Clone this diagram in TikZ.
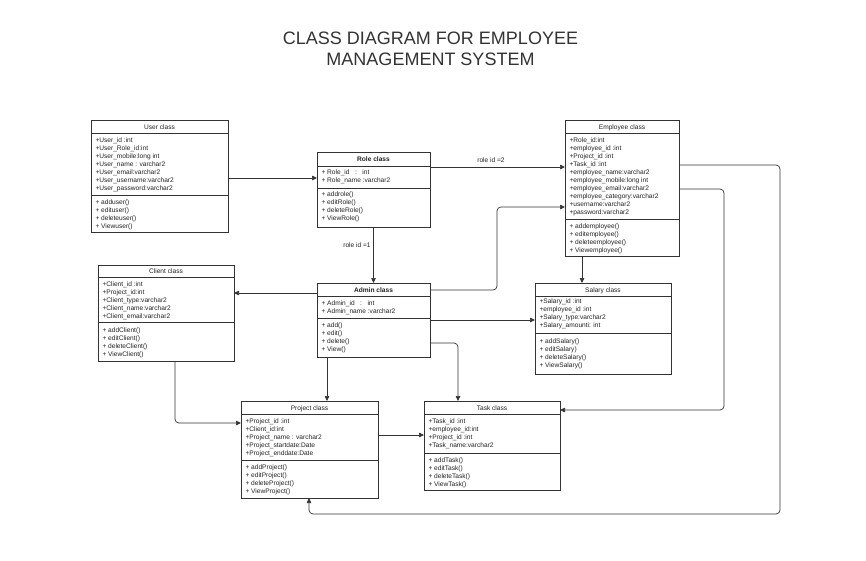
\documentclass[tikz,border=0pt]{standalone}
\usepackage{fontspec}
\setmainfont{Liberation Sans}
\usetikzlibrary{arrows.meta}
\definecolor{ln}{HTML}{333333}
\definecolor{tx}{HTML}{222222}
\definecolor{ttl}{HTML}{333333}
\newcommand\cltext{\fontsize{6.6}{8}\selectfont}
\newcommand\txlines[3]{% x, y0, list
  \foreach \t [count=\i from 0] in {#3} {\node[txt, anchor=base west] at (#1, {#2+\i*8+2.4}) {\t};}}
\newcommand\classhead[5]{% node, x1, x2, yline, ysep
  \draw[ln, line width=0.9pt] (#2,#4) -- (#3,#4);
  \draw[ln, line width=0.9pt] (#2,#5) -- (#3,#5);}
\tikzset{
  cls/.style={draw=ln, line width=0.9pt, rectangle, inner sep=0pt, outer sep=0pt, anchor=north west, fill=white},
  txt/.style={text=tx, font=\cltext, inner sep=0pt, outer sep=0pt},
  conn/.style={draw=ln, line width=0.7pt, -{Triangle[length=5pt,width=4.5pt]}, rounded corners=4pt},
  lbl/.style={text=tx, font=\cltext, inner sep=0pt},
  ttlstyle/.style={text=ttl, font=\fontsize{18}{21}\selectfont, inner sep=0pt, anchor=base}
}
\begin{document}
\begin{tikzpicture}[x=1pt,y=-1pt]
\useasboundingbox[fill=white] (0,0) rectangle (866,560);
% title
\node[ttlstyle] (t1) at (430.5,44.5) {CLASS DIAGRAM FOR EMPLOYEE};
\node[ttlstyle] (t2) at (430.5,65.5) {MANAGEMENT SYSTEM};

% User class
\node[cls, minimum width=137pt, minimum height=112pt] (user) at (91,120) {};
\classhead{user}{91}{228}{133}{195}
\node[txt, anchor=base] (userT) at (159.5,129.4) {User class};
\txlines{95.5}{140}{+User\_id :int,+User\_Role\_id:int,+User\_mobile:long int,+User\_name : varchar2,+User\_email:varchar2,+User\_username:varchar2,+User\_password:varchar2}
\txlines{95.5}{202}{+ adduser(),+ edituser(),+ deleteuser(),+ Viewuser()}

% Role class
\node[cls, minimum width=113pt, minimum height=75pt] (role) at (317,152) {};
\classhead{role}{317}{430}{166}{188}
\node[txt, anchor=base, font=\cltext\bfseries] (roleT) at (373.5,161.4) {Role class};
\txlines{321.5}{172.5}{+ Role\_id~~~:~~~int,+ Role\_name :varchar2}
\txlines{321.5}{194}{+ addrole(),+ editRole(),+ deleteRole(),+ ViewRole()}

% Employee class
\node[cls, minimum width=114pt, minimum height=136pt] (emp) at (565,120) {};
\classhead{emp}{565}{679}{133}{219}
\node[txt, anchor=base] (empT) at (622,129.4) {Employee class};
\txlines{569.5}{140}{+Role\_id:int,+employee\_id :int,+Project\_id :int,+Task\_id :int,+employee\_name:varchar2,+employee\_mobile:long int,+employee\_email:varchar2,+employee\_category:varchar2,+username:varchar2,+password:varchar2}
\txlines{569.5}{226}{+ addemployee(),+ editemployee(),+ deleteemployee(),+ Viewemployee()}

% Client class
\node[cls, minimum width=136pt, minimum height=96pt] (client) at (98,265) {};
\classhead{client}{98}{234}{277}{322}
\node[txt, anchor=base] (clientT) at (166,273.4) {Client class};
\txlines{102.5}{284}{+Client\_id :int,+Project\_id:int,+Client\_type:varchar2,+Client\_name:varchar2,+Client\_email:varchar2}
\txlines{102.5}{330}{+ addClient(),+ editClient(),+ deleteClient(),+ ViewClient()}

% Admin class
\node[cls, minimum width=113pt, minimum height=74pt] (admin) at (317,283) {};
\classhead{admin}{317}{430}{296}{318}
\node[txt, anchor=base, font=\cltext\bfseries] (adminT) at (373.5,292.4) {Admin class};
\txlines{321.5}{303}{+ Admin\_id~~~:~~~int,+ Admin\_name :varchar2}
\txlines{321.5}{325}{+ add(),+ edit(),+ delete(),+ View()}

% Salary class
\node[cls, minimum width=136pt, minimum height=91pt] (salary) at (535,283) {};
\classhead{salary}{535}{671}{296}{333}
\node[txt, anchor=base] (salaryT) at (603,292.4) {Salary class};
\txlines{539.5}{301}{+Salary\_id :int,+employee\_id :int,+Salary\_type:varchar2,+Salary\_amounti: int}
\txlines{539.5}{341}{+ addSalary(),+ editSalary),+ deleteSalary(),+ ViewSalary()}

% Project class
\node[cls, minimum width=137pt, minimum height=97pt] (project) at (241,401) {};
\classhead{project}{241}{378}{414}{460}
\node[txt, anchor=base] (projectT) at (309.5,410.4) {Project class};
\txlines{245.5}{421}{+Project\_id :int,+Client\_id:int,+Project\_name : varchar2,+Project\_startdate:Date,+Project\_enddate:Date}
\txlines{245.5}{467}{+ addProject(),+ editProject(),+ deleteProject(),+ ViewProject()}

% Task class
\node[cls, minimum width=136pt, minimum height=89pt] (task) at (424,401) {};
\classhead{task}{424}{560}{414}{453}
\node[txt, anchor=base] (taskT) at (492,410.4) {Task class};
\txlines{428.5}{421}{+Task\_id :int,+employee\_id:int,+Project\_id :int,+Task\_name:varchar2}
\txlines{428.5}{460}{+ addTask(),+ editTask(),+ deleteTask(),+ ViewTask()}

% connectors
\draw[conn] (user.east |- 0,178) -- (role.west |- 0,178);
\draw[conn] (role.east |- 0,167) -- (emp.west |- 0,167);
\node[lbl] (lbl2) at (491,160) {role id =2};
\draw[conn] (role.south) -- (admin.north);
\node[lbl] (lbl1) at (357,245.5) {role id =1};
\draw[conn] (admin.east |- 0,290) -| (497,207) -- (emp.west |- 0,207);
\draw[conn] (admin.east |- 0,320) -- (salary.west |- 0,320);
\draw[conn] (admin.east |- 0,343) -| (task.north -| 458,0);
\draw[conn] (admin.west |- 0,293) -- (client.east |- 0,293);
\draw[conn] (admin.south -| 327,0) -- (project.north -| 327,0);
\draw[conn] (client.south -| 175,0) |- (project.west |- 0,423);
\draw[conn] (project.east |- 0,435) -- (task.west |- 0,435);
\draw[conn] (emp.east |- 0,189) -| (724,410) -- (task.east |- 0,410);
\draw[conn] (emp.east |- 0,165) -| (780,514) -| (project.south -| 309,0);
\draw[conn] (emp.south -| 582,0) -- (salary.north -| 582,0);
\end{tikzpicture}
\end{document}
